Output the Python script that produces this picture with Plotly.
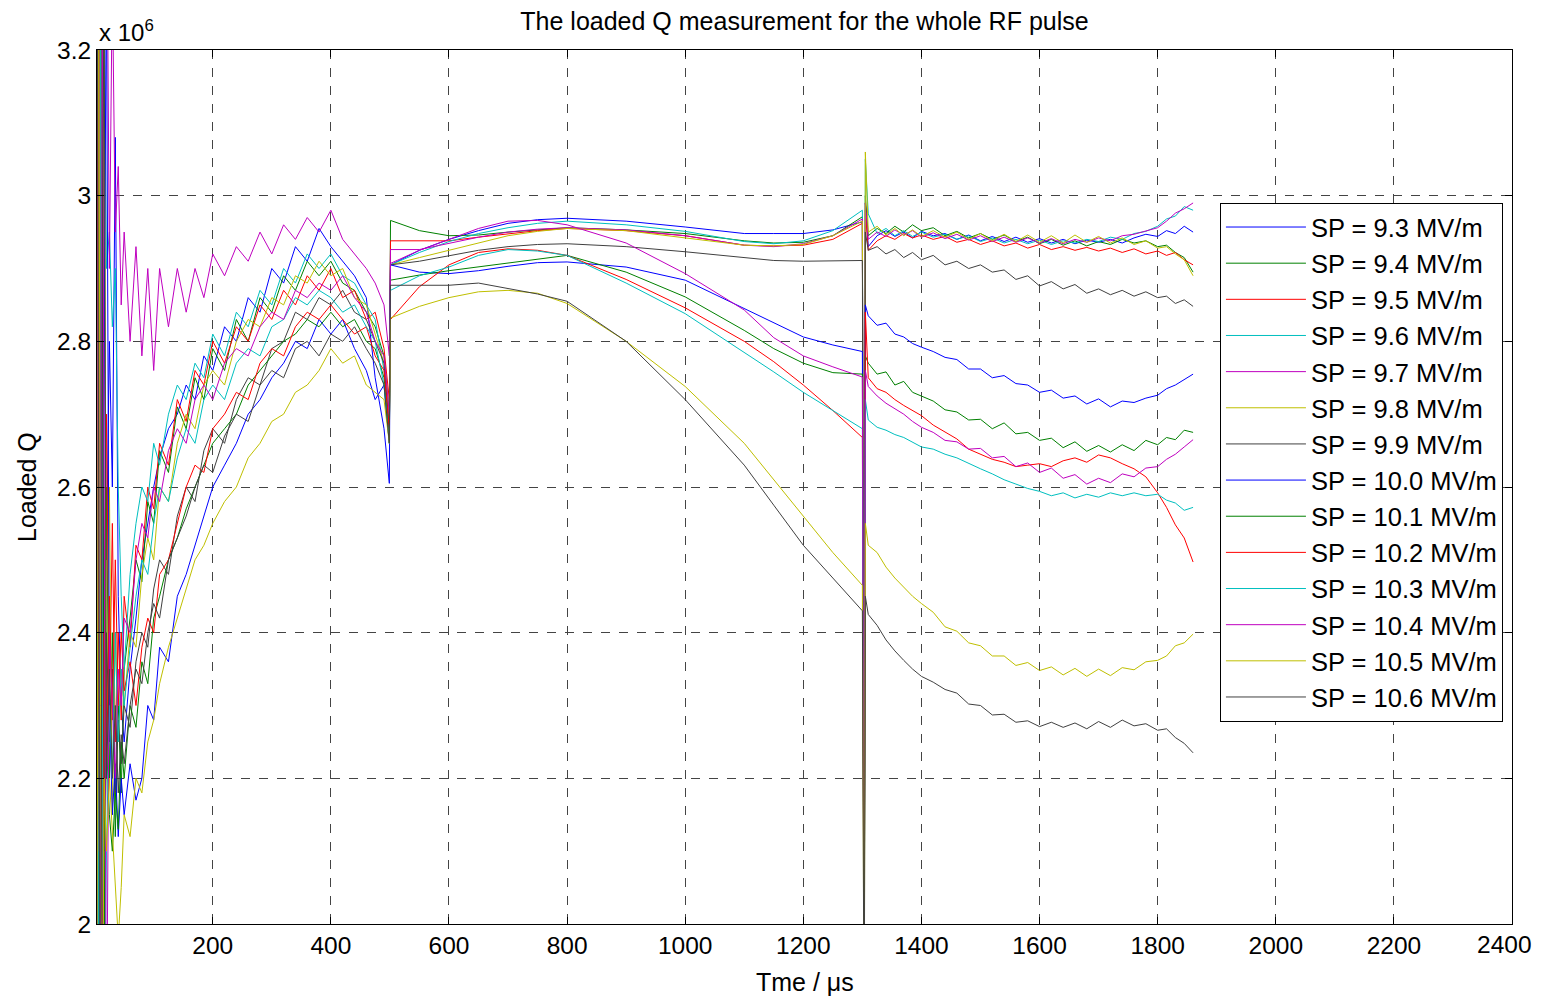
import plotly.graph_objects as go

# time grids (µs) for the three parts of the RF pulse
T1 = [4, 7, 10, 13, 16, 20, 25, 30, 35, 40, 45, 50, 60, 70, 80, 90, 100, 110,
      125, 140, 155, 170, 185, 200, 220, 240, 260, 280, 300, 320, 340, 360,
      380, 400, 420, 440, 460, 475, 490, 499]
T2 = [501, 550, 600, 650, 700, 750, 800, 900, 1000, 1100, 1150, 1200, 1250, 1300]
T3 = [1303, 1305, 1310, 1325, 1340, 1355, 1370, 1385, 1400, 1420, 1440, 1460,
      1480, 1500, 1520, 1540, 1560, 1580, 1600, 1620, 1640, 1660, 1680, 1700,
      1720, 1740, 1760, 1780, 1800, 1815, 1830, 1845, 1860]

labels = ["SP = 9.3 MV/m", "SP = 9.4 MV/m", "SP = 9.5 MV/m", "SP = 9.6 MV/m",
          "SP = 9.7 MV/m", "SP = 9.8 MV/m", "SP = 9.9 MV/m", "SP = 10.0 MV/m",
          "SP = 10.1 MV/m", "SP = 10.2 MV/m", "SP = 10.3 MV/m", "SP = 10.4 MV/m",
          "SP = 10.5 MV/m", "SP = 10.6 MV/m"]

x_ticks = [200, 400, 600, 800, 1000, 1200, 1400, 1600, 1800, 2000, 2200, 2400]

# loaded Q in units of 1e6
sp93_rise = [3.5, 1.7, 3.4, 2.3, 2.9, 2.5, 2.8, 2.6, 3.08, 2.45, 2.3, 2.25, 2.35, 2.42, 2.5, 2.55, 2.6, 2.64,
             2.68, 2.7, 2.74, 2.72, 2.78, 2.76, 2.82, 2.8, 2.86, 2.84, 2.9, 2.88, 2.93, 2.91, 2.955, 2.93,
             2.91, 2.89, 2.86, 2.75, 2.68, 2.605]
sp93_flat = [2.905, 2.925, 2.94, 2.952, 2.962, 2.967, 2.969, 2.965, 2.957, 2.948, 2.948, 2.948, 2.953, 2.964]
sp93_tail = [1.8, 2.99, 2.93, 2.945, 2.952, 2.944, 2.95, 2.942, 2.951, 2.945, 2.948, 2.94, 2.946, 2.938,
             2.944, 2.937, 2.943, 2.936, 2.941, 2.935, 2.94, 2.934, 2.939, 2.936, 2.94, 2.935, 2.942,
             2.947, 2.944, 2.952, 2.948, 2.958, 2.95]

sp94_rise = [1.6, 3.4, 2.2, 3.3, 2.1, 2.6, 2.2, 2.4, 2.12, 2.3, 2.18, 2.35, 2.42, 2.5, 2.47, 2.58, 2.55, 2.65,
             2.62, 2.71, 2.68, 2.75, 2.72, 2.79, 2.76, 2.83, 2.8, 2.86, 2.84, 2.89, 2.87, 2.91, 2.89, 2.91,
             2.88, 2.87, 2.84, 2.82, 2.78, 2.7]
sp94_flat = [2.966, 2.952, 2.945, 2.946, 2.95, 2.953, 2.956, 2.953, 2.948, 2.938, 2.935, 2.936, 2.945, 2.971]
sp94_tail = [1.8, 3.0, 2.945, 2.955, 2.948, 2.958, 2.95, 2.96, 2.952, 2.956, 2.945, 2.951, 2.942, 2.948,
             2.94, 2.946, 2.937, 2.943, 2.934, 2.94, 2.932, 2.938, 2.931, 2.937, 2.933, 2.94, 2.935,
             2.938, 2.93, 2.932, 2.922, 2.915, 2.895]

sp95_rise = [3.5, 2.0, 1.7, 3.3, 2.4, 2.7, 2.3, 2.55, 2.25, 2.4, 2.28, 2.45, 2.38, 2.52, 2.5, 2.6, 2.57, 2.66,
             2.63, 2.72, 2.69, 2.76, 2.74, 2.8, 2.77, 2.82, 2.8, 2.85, 2.83, 2.87, 2.85, 2.89, 2.87, 2.9,
             2.86, 2.87, 2.83, 2.84, 2.79, 2.72]
sp95_flat = [2.938, 2.938, 2.938, 2.943, 2.948, 2.952, 2.955, 2.952, 2.945, 2.932, 2.931, 2.932, 2.94, 2.962]
sp95_tail = [1.8, 2.98, 2.925, 2.938, 2.945, 2.94, 2.948, 2.942, 2.946, 2.94, 2.944, 2.936, 2.94, 2.933,
             2.938, 2.931, 2.935, 2.928, 2.933, 2.926, 2.93, 2.925, 2.929, 2.924, 2.928, 2.922, 2.927,
             2.92, 2.924, 2.918, 2.922, 2.912, 2.905]

sp96_rise = [2.0, 3.5, 1.6, 2.7, 3.3, 2.9, 2.95, 2.82, 2.9, 2.6, 2.45, 2.35, 2.48, 2.55, 2.6, 2.58, 2.66, 2.63,
             2.7, 2.74, 2.72, 2.77, 2.75, 2.81, 2.78, 2.84, 2.82, 2.87, 2.85, 2.9, 2.88, 2.92, 2.9, 2.92,
             2.89, 2.88, 2.85, 2.83, 2.76, 2.68]
sp96_flat = [2.905, 2.922, 2.937, 2.948, 2.956, 2.962, 2.965, 2.96, 2.951, 2.937, 2.934, 2.938, 2.952, 2.98]
sp96_tail = [1.8, 3.05, 2.975, 2.948, 2.955, 2.945, 2.952, 2.944, 2.95, 2.943, 2.947, 2.94, 2.945, 2.937,
             2.942, 2.935, 2.94, 2.934, 2.939, 2.933, 2.938, 2.935, 2.94, 2.937, 2.943, 2.94, 2.948,
             2.951, 2.958, 2.968, 2.972, 2.985, 2.98]

sp97_rise = [3.6, 2.2, 3.4, 1.8, 3.3, 3.5, 2.9, 3.3, 2.95, 3.04, 2.85, 2.95, 2.8, 2.93, 2.78, 2.9, 2.76, 2.9,
             2.82, 2.9, 2.84, 2.9, 2.86, 2.92, 2.89, 2.93, 2.91, 2.95, 2.92, 2.96, 2.94, 2.97, 2.95, 2.98,
             2.94, 2.92, 2.9, 2.88, 2.85, 2.78]
sp97_flat = [2.926, 2.926, 2.935, 2.943, 2.95, 2.954, 2.956, 2.953, 2.945, 2.932, 2.93, 2.934, 2.945, 2.968]
sp97_tail = [1.8, 2.99, 2.94, 2.95, 2.944, 2.953, 2.946, 2.952, 2.943, 2.949, 2.941, 2.947, 2.939, 2.945,
             2.937, 2.943, 2.936, 2.942, 2.935, 2.941, 2.934, 2.94, 2.936, 2.942, 2.938, 2.945, 2.947,
             2.952, 2.956, 2.965, 2.976, 2.982, 2.99]

sp98_rise = [2.5, 1.7, 3.3, 2.0, 3.4, 2.2, 2.6, 2.15, 2.4, 2.25, 2.35, 2.3, 2.4, 2.38, 2.48, 2.53, 2.5, 2.6,
             2.58, 2.66, 2.7, 2.68, 2.74, 2.76, 2.74, 2.8, 2.83, 2.82, 2.86, 2.85, 2.89, 2.88, 2.91, 2.89,
             2.9, 2.86, 2.85, 2.81, 2.77, 2.7]
sp98_flat = [2.905, 2.915, 2.925, 2.935, 2.945, 2.951, 2.955, 2.952, 2.942, 2.932, 2.931, 2.933, 2.945, 2.965]
sp98_tail = [1.8, 3.06, 2.95, 2.958, 2.946, 2.955, 2.945, 2.953, 2.944, 2.952, 2.943, 2.95, 2.94, 2.948,
             2.938, 2.947, 2.937, 2.946, 2.936, 2.945, 2.935, 2.946, 2.936, 2.944, 2.935, 2.942, 2.933,
             2.938, 2.928, 2.93, 2.92, 2.912, 2.89]

sp99_rise = [3.4, 1.6, 2.6, 3.3, 1.9, 2.4, 2.25, 2.35, 2.18, 2.28, 2.22, 2.3, 2.27, 2.36, 2.4, 2.38, 2.46, 2.5,
             2.48, 2.56, 2.6, 2.58, 2.65, 2.68, 2.66, 2.72, 2.75, 2.74, 2.79, 2.8, 2.84, 2.83, 2.86, 2.85,
             2.87, 2.84, 2.83, 2.8, 2.77, 2.68]
sp99_flat = [2.905, 2.91, 2.918, 2.925, 2.93, 2.933, 2.934, 2.93, 2.923, 2.915, 2.911, 2.91, 2.911, 2.911]
sp99_tail = [1.8, 2.95, 2.925, 2.93, 2.92, 2.926, 2.915, 2.922, 2.912, 2.918, 2.905, 2.91, 2.9, 2.905,
             2.895, 2.898, 2.885, 2.89, 2.876, 2.882, 2.872, 2.878, 2.866, 2.872, 2.864, 2.87, 2.862,
             2.868, 2.86, 2.862, 2.852, 2.857, 2.848]

sp100_rise = [1.6, 3.5, 2.4, 1.7, 2.8, 3.3, 2.3, 2.15, 2.22, 2.12, 2.2, 2.15, 2.22, 2.17, 2.2, 2.3, 2.28, 2.38,
              2.36, 2.45, 2.48, 2.52, 2.56, 2.6, 2.63, 2.66, 2.7, 2.72, 2.75, 2.77, 2.8, 2.79, 2.83, 2.81,
              2.83, 2.79, 2.76, 2.72, 2.74, 2.66]
sp100_flat = [2.905, 2.895, 2.893, 2.897, 2.903, 2.908, 2.909, 2.902, 2.884, 2.845, 2.825, 2.806, 2.795, 2.786]
sp100_tail = [1.8, 2.85, 2.835, 2.822, 2.825, 2.81, 2.806, 2.797, 2.792, 2.786, 2.778, 2.775, 2.762, 2.762,
              2.75, 2.753, 2.742, 2.74, 2.73, 2.733, 2.722, 2.725, 2.714, 2.721, 2.71, 2.718, 2.716,
              2.722, 2.726, 2.735, 2.74, 2.748, 2.755]

sp101_rise = [2.2, 3.4, 1.7, 3.2, 2.0, 2.25, 2.15, 2.1, 2.18, 2.13, 2.25, 2.2, 2.3, 2.27, 2.36, 2.33, 2.42, 2.45,
              2.5, 2.53, 2.57, 2.6, 2.63, 2.66, 2.68, 2.7, 2.74, 2.76, 2.78, 2.8, 2.81, 2.83, 2.82, 2.84,
              2.82, 2.83, 2.8, 2.79, 2.75, 2.67]
sp101_flat = [2.884, 2.891, 2.897, 2.902, 2.908, 2.913, 2.918, 2.895, 2.861, 2.815, 2.79, 2.77, 2.757, 2.755]
sp101_tail = [1.8, 2.78, 2.77, 2.755, 2.758, 2.74, 2.745, 2.73, 2.725, 2.718, 2.706, 2.703, 2.692, 2.693,
              2.68, 2.688, 2.673, 2.675, 2.664, 2.667, 2.654, 2.662, 2.649, 2.657, 2.648, 2.658, 2.65,
              2.664, 2.658, 2.668, 2.665, 2.678, 2.675]

sp102_rise = [3.3, 2.1, 3.5, 1.6, 2.4, 2.2, 2.45, 2.28, 2.5, 2.3, 2.4, 2.32, 2.36, 2.3, 2.38, 2.42, 2.4, 2.48,
              2.5, 2.55, 2.6, 2.63, 2.62, 2.68, 2.7, 2.73, 2.72, 2.77, 2.79, 2.78, 2.82, 2.84, 2.83, 2.85,
              2.83, 2.81, 2.82, 2.78, 2.76, 2.68]
sp102_flat = [2.83, 2.875, 2.905, 2.922, 2.927, 2.925, 2.918, 2.885, 2.846, 2.8, 2.772, 2.74, 2.705, 2.668]
sp102_tail = [1.8, 2.84, 2.75, 2.735, 2.73, 2.72, 2.712, 2.705, 2.698, 2.685, 2.676, 2.666, 2.652, 2.645,
              2.638, 2.634, 2.628, 2.63, 2.632, 2.628, 2.636, 2.64, 2.634, 2.644, 2.64, 2.632, 2.625,
              2.614, 2.592, 2.572, 2.548, 2.53, 2.497]

sp103_rise = [2.8, 1.7, 3.4, 2.3, 1.8, 2.1, 2.3, 2.2, 2.4, 2.25, 2.35, 2.3, 2.38, 2.45, 2.5, 2.48, 2.55, 2.6,
              2.58, 2.64, 2.68, 2.66, 2.72, 2.74, 2.72, 2.77, 2.79, 2.78, 2.82, 2.83, 2.86, 2.85, 2.87, 2.86,
              2.84, 2.85, 2.82, 2.8, 2.74, 2.66]
sp103_flat = [2.87, 2.89, 2.902, 2.918, 2.926, 2.924, 2.918, 2.88, 2.838, 2.785, 2.758, 2.73, 2.705, 2.68]
sp103_tail = [1.8, 2.72, 2.692, 2.682, 2.678, 2.672, 2.668, 2.662, 2.655, 2.652, 2.645, 2.64, 2.632, 2.625,
              2.618, 2.61, 2.604, 2.598, 2.594, 2.588, 2.592, 2.585, 2.59, 2.586, 2.592, 2.588, 2.592,
              2.588, 2.59, 2.582, 2.578, 2.568, 2.572]

sp104_rise = [2.4, 3.5, 2.0, 3.3, 2.6, 1.8, 2.4, 2.3, 2.2, 2.35, 2.3, 2.42, 2.4, 2.5, 2.55, 2.53, 2.6, 2.58,
              2.65, 2.68, 2.66, 2.72, 2.74, 2.72, 2.77, 2.79, 2.78, 2.82, 2.84, 2.83, 2.87, 2.86, 2.88, 2.87,
              2.89, 2.86, 2.84, 2.8, 2.78, 2.7]
sp104_flat = [2.907, 2.925, 2.94, 2.955, 2.965, 2.966, 2.96, 2.935, 2.893, 2.843, 2.805, 2.78, 2.765, 2.751]
sp104_tail = [1.8, 2.76, 2.738, 2.725, 2.715, 2.708, 2.7, 2.69, 2.682, 2.675, 2.664, 2.662, 2.652, 2.653,
              2.64, 2.642, 2.628, 2.633, 2.62, 2.626, 2.612, 2.617, 2.604, 2.612, 2.606, 2.618, 2.614,
              2.626, 2.628, 2.638, 2.645, 2.655, 2.665]

sp105_rise = [1.8, 3.3, 2.3, 1.7, 2.2, 2.1, 2.2, 2.12, 2.05, 1.98, 2.05, 2.15, 2.12, 2.2, 2.18, 2.25, 2.28, 2.33,
              2.38, 2.42, 2.46, 2.5, 2.52, 2.55, 2.58, 2.6, 2.64, 2.66, 2.69, 2.7, 2.73, 2.74, 2.76, 2.79,
              2.77, 2.78, 2.74, 2.73, 2.72, 2.66]
sp105_flat = [2.832, 2.848, 2.86, 2.868, 2.87, 2.866, 2.852, 2.8, 2.738, 2.66, 2.61, 2.56, 2.51, 2.465]
sp105_tail = [1.8, 2.55, 2.52, 2.51, 2.49, 2.475, 2.462, 2.45, 2.44, 2.428, 2.408, 2.402, 2.386, 2.382,
              2.368, 2.368, 2.355, 2.359, 2.348, 2.353, 2.342, 2.351, 2.34, 2.35, 2.341, 2.352, 2.349,
              2.36, 2.362, 2.368, 2.382, 2.386, 2.398]

sp106_rise = [3.5, 2.3, 1.6, 2.9, 3.3, 2.2, 2.35, 2.2, 2.3, 2.18, 2.26, 2.22, 2.3, 2.35, 2.33, 2.4, 2.44, 2.42,
              2.5, 2.53, 2.56, 2.6, 2.63, 2.62, 2.67, 2.7, 2.69, 2.74, 2.76, 2.75, 2.79, 2.8, 2.78, 2.81,
              2.8, 2.82, 2.79, 2.77, 2.74, 2.66]
sp106_flat = [2.877, 2.877, 2.877, 2.88, 2.872, 2.865, 2.855, 2.8, 2.72, 2.63, 2.575, 2.52, 2.475, 2.43]
sp106_tail = [1.8, 2.45, 2.425, 2.41, 2.39, 2.375, 2.362, 2.35, 2.34, 2.332, 2.322, 2.317, 2.302, 2.3,
              2.287, 2.288, 2.277, 2.279, 2.271, 2.277, 2.27, 2.276, 2.268, 2.278, 2.27, 2.28, 2.272,
              2.275, 2.266, 2.268, 2.256, 2.248, 2.235]

series = [
    (sp93_rise, sp93_flat, sp93_tail), (sp94_rise, sp94_flat, sp94_tail),
    (sp95_rise, sp95_flat, sp95_tail), (sp96_rise, sp96_flat, sp96_tail),
    (sp97_rise, sp97_flat, sp97_tail), (sp98_rise, sp98_flat, sp98_tail),
    (sp99_rise, sp99_flat, sp99_tail), (sp100_rise, sp100_flat, sp100_tail),
    (sp101_rise, sp101_flat, sp101_tail), (sp102_rise, sp102_flat, sp102_tail),
    (sp103_rise, sp103_flat, sp103_tail), (sp104_rise, sp104_flat, sp104_tail),
    (sp105_rise, sp105_flat, sp105_tail), (sp106_rise, sp106_flat, sp106_tail),
]

# matlab line colour order, cycled
colors = ["#0000ff", "#008000", "#ff0000", "#00bfbf", "#bf00bf", "#bfbf00", "#404040"] * 2

FONT = "Liberation Sans, Arial, Helvetica, sans-serif"

fig = go.Figure()
for label, (a, b, c), col in zip(labels, series, colors):
    fig.add_trace(go.Scatter(
        x=T1 + T2 + T3, y=a + b + c, mode="lines", name=label,
        line=dict(color=col, width=1)
    ))

axis_style = dict(
    showline=True, linecolor="black", linewidth=1, mirror="ticks",
    ticks="inside", ticklen=7, tickcolor="black",
    showgrid=True, gridcolor="#444444", griddash="dash", gridwidth=1,
    zeroline=False,
    tickfont=dict(family=FONT, size=24.5, color="black"),
)

# last x label sits at the page edge, so it is written separately below
x_text = [str(v) for v in x_ticks[:-1]] + [""]
fig.update_xaxes(range=[4, 2400], tickvals=x_ticks, ticktext=x_text, **axis_style)
fig.update_yaxes(range=[2, 3.2], tick0=2, dtick=0.2, **axis_style)

# the page body adds an 8px offset, so the figure is sized to sit inside the window
W, H = 1526, 988
fig.update_layout(
    width=W, height=H,
    plot_bgcolor="white", paper_bgcolor="white",
    margin=dict(l=89, r=22, t=42, b=72),
    font=dict(family=FONT, size=24, color="black"),
    title=dict(text="The loaded Q measurement for the whole RF pulse",
               x=0.5, xref="paper", y=1 - 13 / H, yref="container",
               yanchor="middle", font=dict(family=FONT, size=25)),
    legend=dict(
        x=0.9936, xanchor="right", y=0.825, yanchor="top",
        bgcolor="white", bordercolor="black", borderwidth=1,
        font=dict(family=FONT, size=25.5), itemwidth=80,
        tracegroupgap=0,
    ),
    annotations=[
        dict(text="x 10<sup>6</sup>", xref="paper", yref="paper", x=0, y=1,
             xanchor="left", yanchor="bottom", showarrow=False, yshift=2,
             font=dict(family=FONT, size=24)),
        dict(text="Tme / \u03bcs", xref="paper", yref="paper", x=0.5, y=0,
             xanchor="center", yanchor="middle", showarrow=False, yshift=-58,
             font=dict(family=FONT, size=25)),
        dict(text="Loaded Q", xref="paper", yref="paper", x=0, y=0.5,
             xanchor="center", yanchor="middle", showarrow=False, xshift=-70,
             textangle=-90, font=dict(family=FONT, size=25)),
        dict(text=str(x_ticks[-1]), xref="paper", yref="paper", x=1, y=0,
             xanchor="right", yanchor="middle", showarrow=False,
             xshift=21, yshift=-20, borderpad=0,
             font=dict(family=FONT, size=24.5)),
    ],
)

fig.write_html("out.html")
